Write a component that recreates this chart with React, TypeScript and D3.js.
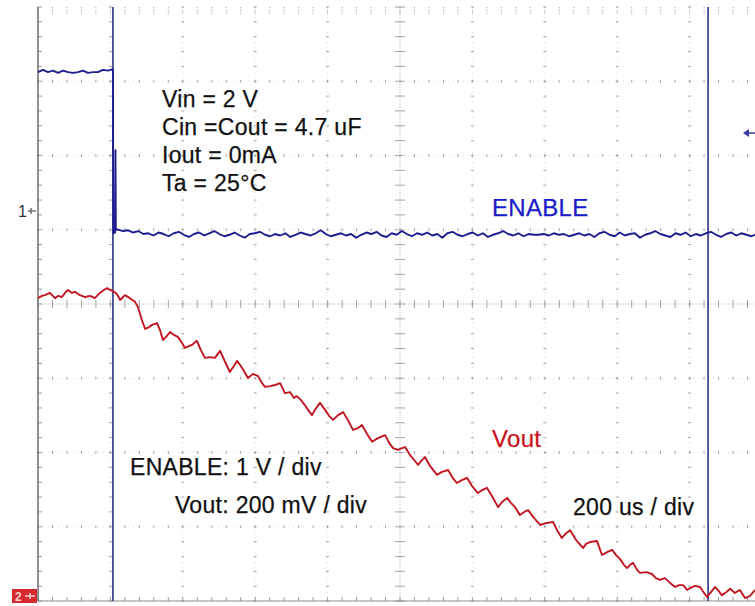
import React from "react";
import * as d3 from "d3";

// ---------- data ----------
// time axis: 0 .. 2000 us across the graticule (200 us / div)
const TIME_DOMAIN = [0, 2000];
const DIVS_X = 10;
const DIVS_Y = 8;

// ENABLE channel (1 V/div), volts relative to channel-1 marker
const enableHighV = [1.87, 1.9, 1.87, 1.89, 1.86, 1.89, 1.87, 1.86, 1.87, 1.89, 1.86, 1.87, 1.87, 1.9, 1.89, 1.91];
const enableHighStart = 0;
const enableHighStep = 13.8;
const enableEdgeT = [207, 208, 213, 214, 215, 218];
const enableEdgeV = [1.89, -0.3, -0.29, 0.82, -0.26, -0.25];
const enableLowStart = 221;
const enableLowStep = 14;
const enableLowV = [
  -0.25, -0.27, -0.26, -0.29, -0.27, -0.31, -0.3, -0.33, -0.29, -0.31,
  -0.34, -0.3, -0.28, -0.32, -0.35, -0.31, -0.29, -0.33, -0.3, -0.27,
  -0.31, -0.34, -0.32, -0.29, -0.33, -0.36, -0.31, -0.3, -0.28, -0.32,
  -0.34, -0.31, -0.33, -0.3, -0.35, -0.32, -0.29, -0.31, -0.33, -0.3,
  -0.26, -0.31, -0.34, -0.32, -0.3, -0.33, -0.31, -0.36, -0.32, -0.29,
  -0.31, -0.28, -0.33, -0.35, -0.3, -0.32, -0.27, -0.31, -0.34, -0.3,
  -0.32, -0.29, -0.33, -0.31, -0.36, -0.3, -0.28, -0.32, -0.34, -0.31,
  -0.29, -0.33, -0.3, -0.35, -0.32, -0.3, -0.27, -0.31, -0.33, -0.3,
  -0.34, -0.31, -0.32, -0.32, -0.31, -0.33, -0.3, -0.32, -0.31, -0.34,
  -0.32, -0.3, -0.33, -0.31, -0.35, -0.3, -0.28, -0.32, -0.34, -0.29,
  -0.33, -0.31, -0.3, -0.36, -0.32, -0.3, -0.27, -0.31, -0.33, -0.35,
  -0.3, -0.32, -0.29, -0.34, -0.31, -0.33, -0.3, -0.28, -0.32, -0.35,
  -0.31, -0.29, -0.33, -0.3, -0.32, -0.34, -0.31, -0.32,
];

// Vout channel (200 mV/div), mV
const voutT = [
  0, 11, 19, 33, 47, 55, 66, 77, 83, 94, 102, 116, 130, 144, 157, 171, 182, 191, 199, 207,
  218, 227, 240, 254, 268, 276, 287, 296, 307, 315, 329, 337, 345, 356, 365, 376, 387, 398, 406, 417,
  425, 439, 450, 461, 475, 489, 503, 517, 530, 541, 550, 564, 580, 594, 608, 619, 627, 641, 655, 669,
  682, 696, 707, 715, 726, 737, 746, 757, 765, 779, 793, 804, 815, 829, 843, 856, 870, 884, 895, 909,
  923, 939, 959, 970, 981, 994, 1006, 1014, 1028, 1039, 1050, 1058, 1069, 1083, 1102, 1116, 1133, 1144, 1157, 1171,
  1185, 1199, 1215, 1227, 1240, 1254, 1271, 1282, 1296, 1307, 1318, 1331, 1343, 1354, 1370, 1387, 1403, 1423, 1434, 1447,
  1459, 1470, 1486, 1506, 1514, 1525, 1544, 1558, 1572, 1586, 1597, 1608, 1619, 1627, 1635, 1644, 1655, 1663, 1680, 1696,
  1707, 1718, 1732, 1746, 1760, 1771, 1782, 1793, 1801, 1815, 1829, 1840, 1848, 1859, 1870, 1878, 1889, 1901, 1912, 1925,
  1939, 1953, 1967, 1981,
];
const voutMV = [
  805, 811, 813, 819, 805, 811, 808, 822, 827, 819, 822, 813, 808, 811, 805, 819, 827, 832, 827, 824,
  816, 800, 813, 805, 795, 781, 746, 722, 727, 733, 738, 719, 692, 703, 714, 706, 700, 684, 671, 676,
  679, 690, 665, 644, 646, 644, 663, 633, 606, 622, 636, 617, 590, 601, 595, 576, 566, 568, 571, 576,
  549, 552, 536, 541, 531, 517, 504, 490, 504, 523, 504, 488, 477, 490, 498, 477, 450, 455, 463, 439,
  418, 428, 436, 415, 401, 396, 401, 404, 382, 369, 356, 366, 377, 353, 329, 337, 342, 323, 307, 315,
  321, 299, 280, 288, 294, 272, 242, 256, 267, 253, 242, 221, 229, 234, 213, 194, 199, 202, 180, 159,
  172, 180, 154, 132, 143, 148, 151, 113, 121, 127, 113, 102, 86, 78, 86, 92, 73, 65, 67, 62,
  51, 46, 51, 38, 27, 32, 32, 19, 24, 30, 27, 11, 0, 13, 27, 19, 5, 13, 22, 11,
  19, -3, 3, 19,
];

const cursorTimes = [207, 1851];
const triggerLevelV = 1.05;

const infoLines = ["Vin = 2 V", "Cin =Cout = 4.7 uF", "Iout = 0mA", "Ta = 25°C"];
const enableLabel = "ENABLE";
const voutLabel = "Vout";
const scaleLabels = ["ENABLE: 1 V / div", "Vout: 200 mV / div", "200 us / div"];

// ---------- layout ----------
const W = 755;
const H = 606;
const X0 = 38;
const X1 = 762;
const Y0 = 7;
const Y1 = 601;
const FONT = "'Liberation Sans', Arial, sans-serif";

export default function App() {
  const x = d3.scaleLinear().domain(TIME_DOMAIN).range([X0, X1]);
  const xDiv = d3.scaleLinear().domain([0, DIVS_X]).range([X0, X1]);
  const yDiv = d3.scaleLinear().domain([0, DIVS_Y]).range([Y0, Y1]);
  const divH = (Y1 - Y0) / DIVS_Y;
  // channel 1: ground marker at y=211, 1 V/div
  const yEn = d3.scaleLinear().domain([0, 1]).range([211, 211 - divH]);
  // channel 2: ground marker at y=597, 200 mV/div
  const yVo = d3.scaleLinear().domain([0, 200]).range([597, 597 - divH]);

  const enablePts: [number, number][] = [];
  enableHighV.forEach((v, i) => enablePts.push([enableHighStart + i * enableHighStep, v]));
  enableEdgeT.forEach((t, i) => enablePts.push([t, enableEdgeV[i]]));
  enableLowV.forEach((v, i) => enablePts.push([enableLowStart + i * enableLowStep, v]));

  const voutPts: [number, number][] = voutT.map((t, i) => [t, voutMV[i]]);

  const lineEn = d3
    .line<[number, number]>()
    .x((d) => x(d[0]))
    .y((d) => yEn(d[1]));
  const lineVo = d3
    .line<[number, number]>()
    .x((d) => x(d[0]))
    .y((d) => yVo(d[1]));

  // grid
  const minorX = d3.range(0, DIVS_X * 5 + 1).map((i) => xDiv(i / 5));
  const minorY = d3.range(0, DIVS_Y * 5 + 1).map((i) => yDiv(i / 5));
  const gridEls: React.ReactNode[] = [];
  for (let k = 1; k < DIVS_X; k++) {
    const gx = xDiv(k);
    const center = k === DIVS_X / 2;
    gridEls.push(
      <line key={"vx" + k} x1={gx} x2={gx} y1={Y0} y2={Y1} stroke={center ? "#b0b0b0" : "#e2e2e2"} strokeWidth={1} strokeDasharray={center ? "1,1.5" : "1,4"} />
    );
    minorY.forEach((my, j) => {
      const half = center ? 5 : 1.5;
      gridEls.push(<line key={`vt${k}-${j}`} x1={gx - half} x2={gx + half} y1={my} y2={my} stroke="#a4a4a4" strokeWidth={1} />);
    });
  }
  for (let k = 1; k < DIVS_Y; k++) {
    const gy = yDiv(k);
    const center = k === DIVS_Y / 2;
    gridEls.push(
      <line key={"hy" + k} x1={X0} x2={X1} y1={gy} y2={gy} stroke={center ? "#b0b0b0" : "#e2e2e2"} strokeWidth={1} strokeDasharray={center ? "1,1.5" : "1,4"} />
    );
    minorX.forEach((mx, j) => {
      const half = center ? 4 : 1.5;
      gridEls.push(<line key={`ht${k}-${j}`} x1={mx} x2={mx} y1={gy - half} y2={gy + half} stroke="#a4a4a4" strokeWidth={1} />);
    });
  }
  // border ticks
  minorY.forEach((my, j) => {
    gridEls.push(<line key={"lt" + j} x1={X0} x2={X0 + 4} y1={my} y2={my} stroke="#999" strokeWidth={1} />);
  });
  minorX.forEach((mx, j) => {
    gridEls.push(<line key={"bt" + j} x1={mx} x2={mx} y1={Y1} y2={Y1 - 4} stroke="#999" strokeWidth={1} />);
    gridEls.push(<line key={"tt" + j} x1={mx} x2={mx} y1={Y0} y2={Y0 + 7} stroke="#a8a8a8" strokeWidth={1} strokeDasharray="1,1" />);
  });

  const navy = "#23237a";
  const traceBlue = "#1e1e8f";
  const traceRed = "#c01622";
  const textStyle = { letterSpacing: "0.3px" };

  return (
    <svg width={W} height={H} style={{ position: "absolute", left: 0, top: 0, background: "#fff" }} fontFamily={FONT}>
      <rect x={0} y={0} width={W} height={H} fill="#fff" />
      <g>{gridEls}</g>
      <line x1={X0} x2={X0} y1={Y0} y2={Y1} stroke="#6e6e6e" strokeWidth={1.5} />
      <line x1={X0} x2={X1} y1={Y1} y2={Y1} stroke="#8a8a8a" strokeWidth={1.2} />

      {/* cursors */}
      {cursorTimes.map((t, i) => (
        <line key={"c" + i} x1={x(t)} x2={x(t)} y1={Y0} y2={Y1} stroke={navy} strokeWidth={1.5} />
      ))}

      {/* traces */}
      <path d={lineVo(voutPts) || ""} fill="none" stroke={traceRed} strokeWidth={1.9} strokeLinejoin="round" />
      <path d={lineEn(enablePts) || ""} fill="none" stroke={traceBlue} strokeWidth={1.9} strokeLinejoin="round" />

      {/* channel 1 marker */}
      <text x={18} y={yEn(0) + 6} fontSize={16} fill="#333">1</text>
      <line x1={28} x2={36} y1={yEn(0)} y2={yEn(0)} stroke="#555" strokeWidth={1.2} />
      <line x1={31} x2={31} y1={yEn(0) - 3} y2={yEn(0) + 3} stroke="#555" strokeWidth={1.2} />

      {/* channel 2 marker */}
      <rect x={12} y={yVo(0) - 8} width={25} height={14} fill="#d42a30" />
      <text x={15} y={yVo(0) + 4} fontSize={12} fontWeight="bold" fill="#f3d0d0">2</text>
      <line x1={25} x2={35} y1={yVo(0) - 1} y2={yVo(0) - 1} stroke="#f3d0d0" strokeWidth={1.5} />
      <line x1={30} x2={30} y1={yVo(0) - 4} y2={yVo(0) + 2} stroke="#f3d0d0" strokeWidth={1.5} />

      {/* trigger level arrow */}
      <path d={`M${743},${yEn(triggerLevelV)} l6,-4 v8 z`} fill="#3a3aa0" />
      <line x1={746} x2={755} y1={yEn(triggerLevelV)} y2={yEn(triggerLevelV)} stroke="#3a3aa0" strokeWidth={1.5} />

      {/* annotation text */}
      {infoLines.map((s, i) => (
        <text key={"info" + i} x={162} y={107 + i * 28} fontSize={23} fill="#111" style={textStyle} stroke="#111" strokeWidth={0.25}>
          {s}
        </text>
      ))}
      <text x={492} y={216} fontSize={24} fill="#1a1ac8" style={textStyle} stroke="#1a1ac8" strokeWidth={0.25}>{enableLabel}</text>
      <text x={492} y={447} fontSize={24} fill="#c8141e" style={textStyle} stroke="#c8141e" strokeWidth={0.25}>{voutLabel}</text>
      <text x={130} y={475} fontSize={23} fill="#111" style={textStyle} stroke="#111" strokeWidth={0.25}>{scaleLabels[0]}</text>
      <text x={175} y={513} fontSize={23} fill="#111" style={textStyle} stroke="#111" strokeWidth={0.25}>{scaleLabels[1]}</text>
      <text x={573} y={515} fontSize={23} fill="#111" style={textStyle} stroke="#111" strokeWidth={0.25}>{scaleLabels[2]}</text>
    </svg>
  );
}
